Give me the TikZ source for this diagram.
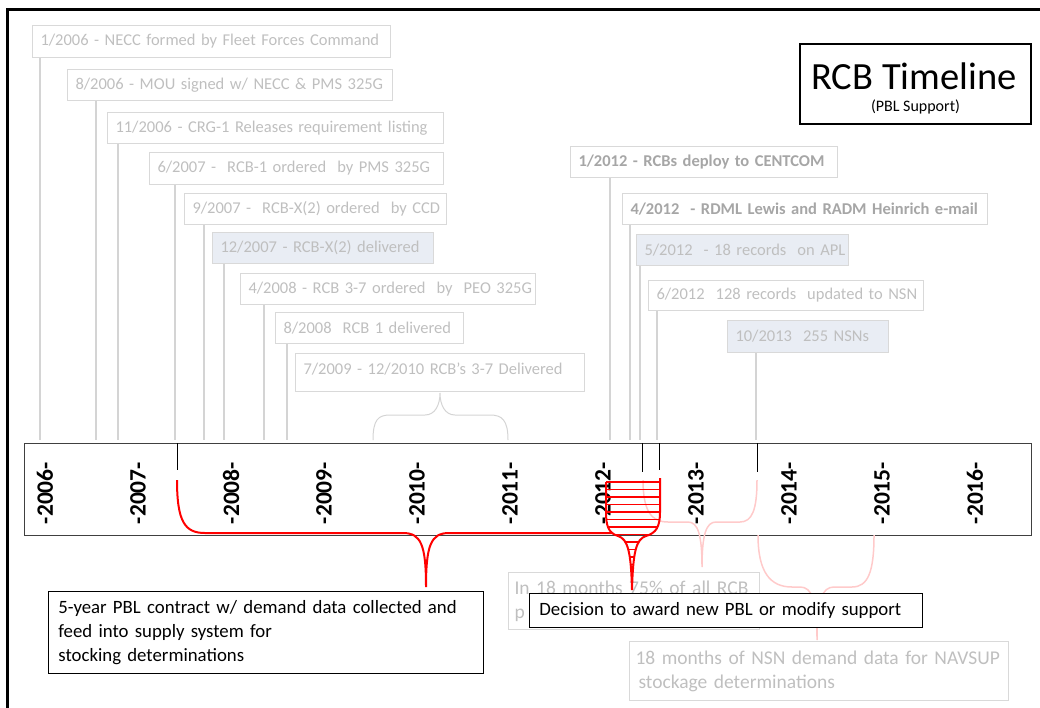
\documentclass[tikz,border=0pt]{standalone}
\usepackage{fontspec}
\setmainfont{Carlito}
\usepackage{tikz}
\definecolor{boxgray}{HTML}{D9D9D9}
\definecolor{txtgray}{HTML}{BFBFBF}
\definecolor{boldgray}{HTML}{A6A6A6}
\definecolor{stemgray}{HTML}{D4D4D4}
\definecolor{lightblue}{HTML}{E9EDF4}
\definecolor{pinkline}{HTML}{FFCACA}
\definecolor{barline}{HTML}{404040}

\begin{document}
\begin{tikzpicture}[x=1pt, y=-1pt,
  evbox/.style={draw=boxgray, line width=1pt, text=txtgray, anchor=north west,
    font=\fontsize{16.5}{19}\selectfont, inner xsep=8pt, inner ysep=0pt, align=left},
  evfill/.style={evbox, fill=lightblue},
  evbold/.style={evbox, text=boldgray, font=\fontsize{16.5}{19}\selectfont\bfseries},
  stem/.style={stemgray, line width=1.2pt},
  tickline/.style={black, line width=0.8pt},
  year/.style={rotate=90, font=\fontsize{23.5}{24}\selectfont\bfseries},
  redline/.style={red, line width=2pt},
  pinkbrace/.style={pinkline, line width=1.5pt},
  notebox/.style={draw=black, line width=0.8pt, fill=white, anchor=north west,
    align=left, inner xsep=10pt, inner ysep=0pt, font=\fontsize{18.8}{24}\selectfont},
  faintbox/.style={draw=boxgray, line width=1pt, anchor=north west, align=left,
    text=txtgray, inner xsep=6pt, inner ysep=0pt, font=\fontsize{19.5}{24}\selectfont}]

\useasboundingbox (0,0) rectangle (1040,707);

% frame
\draw[line width=3pt] (7,720) -- (7,9) -- (1050,9);

% title
\node[draw, line width=2.5pt, minimum width=231pt, minimum height=80pt] (title) at (915.5,84) {};
\node[anchor=base, font=\fontsize{38.5}{40}\selectfont] (titlemain) at (914,89) {RCB Timeline};
\node[anchor=base, font=\fontsize{16}{16}\selectfont] (titlesub) at (915.5,111) {(PBL Support)};

% events
\node[evbox, text width=342pt, minimum height=32pt] (e1) at (32,25) {\mbox{1/2006 - NECC formed by Fleet Forces Command}};
\node[evbox, text width=309pt, minimum height=31pt] (e2) at (67,69) {\mbox{8/2006 - MOU signed w/ NECC \& PMS 325G}};
\node[evbox, text width=320pt, minimum height=31pt] (e3) at (107,112) {\mbox{11/2006 - CRG-1 Releases requirement listing}};
\node[evbox, text width=278pt, minimum height=32pt] (e4) at (149,152) {\mbox{6/2007 -\ \ RCB-1 ordered\ \ by PMS 325G}};
\node[evbox, text width=246pt, minimum height=31pt] (e5) at (184,193) {\mbox{9/2007 -\ \ RCB-X(2) ordered\ \ by CCD}};
\node[evfill, text width=205pt, minimum height=31pt] (e6) at (212,232) {\mbox{12/2007 - RCB-X(2) delivered}};
\node[evbox, text width=279pt, minimum height=31pt] (e7) at (240,273) {\mbox{4/2008 - RCB 3-7 ordered\ \ by\ \ PEO 325G}};
\node[evbox, text width=172pt, minimum height=31pt] (e8) at (275,312) {\mbox{8/2008\ \ RCB 1 delivered}};
\node[evbox, text width=273pt, minimum height=38pt, text depth=8.4pt] (e9) at (295,353) {\mbox{7/2009 - 12/2010 RCB's 3-7 Delivered}};
\node[evbold, text width=251pt, minimum height=31pt] (e10) at (570,146) {\mbox{1/2012 - RCBs deploy to CENTCOM}};
\node[evbold, text width=349pt, minimum height=31pt] (e11) at (622,193) {\mbox{4/2012\ \ - RDML Lewis and RADM Heinrich e-mail}};
\node[evfill, text width=196pt, minimum height=31pt] (e12) at (636,234) {\mbox{5/2012\ \ - 18 records\ \ on APL}};
\node[evbox, text width=259pt, minimum height=30pt] (e13) at (648,280) {\mbox{6/2012\ \ 128 records\ \ updated to NSN}};
\node[evfill, text width=145pt, minimum height=32pt] (e14) at (727,320) {\mbox{10/2013\ \ 255 NSNs}};

% stems down to the bar
\coordinate (t1) at (40,440);
\coordinate (t2) at (96,440);
\coordinate (t3) at (118,440);
\coordinate (t4) at (175,440);
\coordinate (t5) at (204,440);
\coordinate (t6) at (224,440);
\coordinate (t7) at (264,440);
\coordinate (t8) at (287,440);
\coordinate (t10) at (610,440);
\coordinate (t11) at (630,440);
\coordinate (t12) at (640,440);
\coordinate (t13) at (657,440);
\coordinate (t14) at (756,440);
\foreach \n in {1,2,3,4,5,6,7,8,10,11,12,13,14}
  \draw[stem] (e\n.south -| t\n) -- (t\n);

% brace under the delivery box
\draw[stemgray, line width=1pt] (373,440) .. controls (373,420) and (378,415) .. (390,415) -- (425,415)
  .. controls (435,415) and (440,405) .. (440,393)
  .. controls (440,405) and (445,415) .. (455,415) -- (490,415)
  .. controls (502,415) and (508,420) .. (508,440);

% the bar
\draw[barline, line width=1pt] (24,443) rectangle (1031,535);
\foreach \yr [count=\i from 0] in {2006,...,2016}
  \node[year] (y\yr) at (45+93*\i,493) {-\yr-};

% marks inside the bar
\coordinate (k4) at (177,443);  \coordinate (m4) at (177,470);
\coordinate (k12) at (642,443); \coordinate (m12) at (642,472);
\coordinate (k13) at (659,443); \coordinate (m13) at (659,470);
\coordinate (k14) at (757,443); \coordinate (m14) at (757,472);
\foreach \n in {4,12,13,14}
  \draw[tickline] (k\n) -- (m\n);

% faint notes
\node[faintbox, text width=239pt, minimum height=57pt] (inmonths) at (508,572) {In 18 months 75\% of all RCB\\p};
\node[faintbox, text width=367pt, minimum height=59pt] (nsnbox) at (629,641) {18 months of NSN demand data for NAVSUP\\\hspace{3pt}stockage determinations};

% pink braces
\draw[pinkbrace] (643,480) .. controls (643,512) and (652,522) .. (668,522) -- (688,522)
  .. controls (698,522) and (702,535) .. (702,567)
  .. controls (702,535) and (706,522) .. (716,522) -- (740,522)
  .. controls (752,522) and (757,510) .. (757,480);
\draw[pinkbrace] (758,535) .. controls (758,572) and (770,587) .. (792,587) -- (800,587)
  .. controls (812,587) and (817,600) .. (817,640)
  .. controls (817,600) and (822,587) .. (834,587) -- (852,587)
  .. controls (868,587) and (874,572) .. (874,535);

% red brace for the contract
\coordinate (r4) at (177,480);
\draw[redline] (r4) .. controls (177,522) and (185,533) .. (205,533) -- (403,533)
  .. controls (421,533) and (426,545) .. (426,587)
  .. controls (426,545) and (431,533) .. (449,533) -- (613,533);

% hatched funnel
\begin{scope}
  \clip (606,482) -- (660,482) -- (660,512) .. controls (660,527) and (656,533) .. (646,536)
    .. controls (636,539) and (633,552) .. (632,590)
    .. controls (631,552) and (628,539) .. (618,536)
    .. controls (608,533) and (606,525) .. (606,512) -- cycle;
  \foreach \y in {482,489.5,...,590}
    \draw[red, line width=1.6pt] (600,\y) -- (666,\y);
\end{scope}
\draw[redline] (606,482) -- (660,482);
\draw[redline] (660,478) -- (660,512) .. controls (660,527) and (656,533) .. (646,536)
    .. controls (636,539) and (633,552) .. (632,590)
    .. controls (631,552) and (628,539) .. (618,536)
    .. controls (608,533) and (606,525) .. (606,512) -- (606,482);

% notes
\node[notebox, text width=415pt, minimum height=82pt] (contract) at (48,591)
  {5-year PBL contract w/ demand data collected and\\feed into supply system for\\stocking determinations};
\node[notebox, text width=373pt, minimum height=34pt] (decision) at (529,593)
  {\mbox{Decision to award new PBL or modify support}};

\end{tikzpicture}
\end{document}
